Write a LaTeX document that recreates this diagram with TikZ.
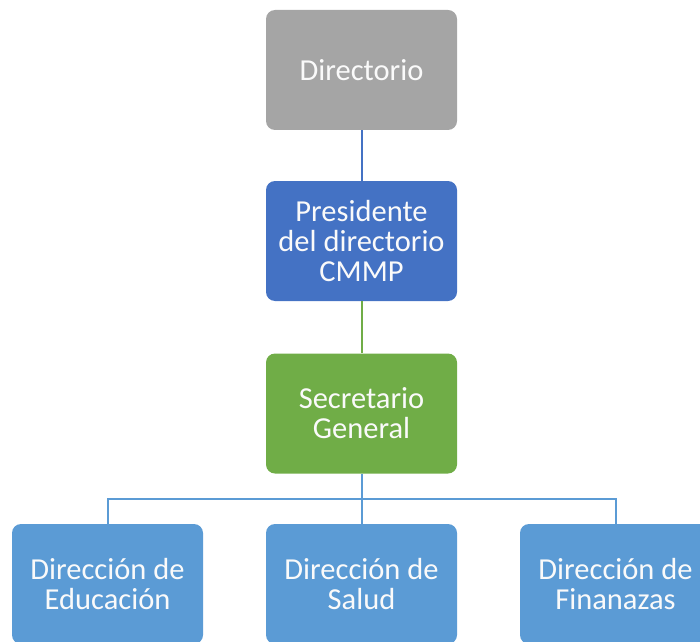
\documentclass[tikz,border=0pt]{standalone}
\usepackage{fontspec}
\setmainfont{Carlito}

\definecolor{grisbox}{HTML}{A5A5A5}
\definecolor{azulbox}{HTML}{4472C4}
\definecolor{verdebox}{HTML}{70AD47}
\definecolor{celestebox}{HTML}{5B9BD5}

\tikzset{
  cargo/.style={rectangle, rounded corners=9pt, minimum width=191pt, minimum height=120pt,
    text=white!96!gray, align=center, inner sep=0pt, font=\fontsize{30.5}{30}\selectfont},
  enlace/.style={line width=2pt}
}

\begin{document}
\begin{tikzpicture}[x=1pt,y=1pt]
            \useasboundingbox (0,0) rectangle (700,641);
            \clip (0,0) rectangle (700,641);

            \node[cargo, fill=grisbox] (dir) at (361.5,571) {Directorio};
            \node[cargo, fill=azulbox] (pres) at (361.5,400) {Presidente\\del directorio\\CMMP};
            \node[cargo, fill=verdebox] (sec) at (361.5,227.5) {Secretario\\General};
            \node[cargo, fill=celestebox] (edu) at (107.5,57) {Dirección de\\Educación};
            \node[cargo, fill=celestebox] (sal) at (361.5,57) {Dirección de\\Salud};
            \node[cargo, fill=celestebox] (fin) at (615.5,57) {Dirección de\\Finanazas};
            \coordinate (bus) at (361.5,142);

            \draw[enlace, draw=azulbox] (dir) -- (pres);
            \draw[enlace, draw=verdebox] (pres) -- (sec);
            \draw[enlace, draw=celestebox] (sec) -- (bus) -| (edu);
            \draw[enlace, draw=celestebox] (bus) -| (fin);
            \draw[enlace, draw=celestebox] (bus) -- (sal);
        \end{tikzpicture}
\end{document}
